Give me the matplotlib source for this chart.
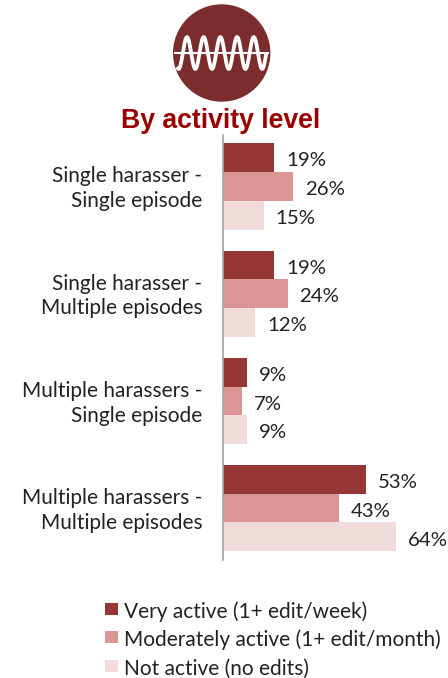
import numpy as np
import matplotlib
matplotlib.use("Agg")
import matplotlib.pyplot as plt
from matplotlib.patches import Circle
from matplotlib.transforms import ScaledTranslation

categories = ["Single harasser -\nSingle episode",
              "Single harasser -\nMultiple episodes",
              "Multiple harassers -\nSingle episode",
              "Multiple harassers -\nMultiple episodes"]
very_active = [19, 19, 9, 53]
moderately_active = [26, 24, 7, 43]
not_active = [15, 12, 9, 64]
series_labels = ["Very active (1+ edit/week)",
                 "Moderately active (1+ edit/month)",
                 "Not active (no edits)"]
colors = ["#953735", "#d99694", "#f2dcdb"]

W, H = 448, 678
plt.rcParams["font.family"] = ["Lato", "DejaVu Sans"]
fig = plt.figure(figsize=(W / 100, H / 100), dpi=100)

# main bars, axis line sits at x=223
ax = fig.add_axes([223 / W, 1 - 560 / H, 225 / W, 425 / H])
bar_h = 0.268
y = np.arange(len(categories))
for i, vals in enumerate([very_active, moderately_active, not_active]):
    pos = y + (i - 1) * bar_h
    ax.barh(pos, vals, height=bar_h, color=colors[i])
    for p, v in zip(pos, vals):
        ax.text(v + 4.3, p + 0.03, "{}%".format(v), va="center", ha="left", fontsize=14.7, color="#222222")

ax.set_xlim(0, 225 / 2.7)
ax.set_ylim(3.484, -0.48)
for s in ["top", "right", "bottom"]:
    ax.spines[s].set_visible(False)
ax.spines["left"].set_color("#a6a6a6")
ax.spines["left"].set_linewidth(1.2)
ax.set_xticks([])
ax.set_yticks(y)
ax.set_yticklabels(categories, fontsize=15, color="#222222", ha="right", linespacing=1.3)
ax.tick_params(axis="y", length=0, pad=15)
# nudge the two-line labels up a little
for lab in ax.get_yticklabels():
    lab.set_transform(lab.get_transform() + ScaledTranslation(0, 1.5 / 72, fig.dpi_scale_trans))

# circular icon on top
icon = fig.add_axes([0, 1 - 110 / H, 448 / W, 110 / H])
icon.set_xlim(0, 448)
icon.set_ylim(110, 0)
icon.axis("off")
icon.add_patch(Circle((221.7, 53), 48.7, color="#7b2c2c", lw=0))
xs = np.linspace(178, 266, 400)
icon.plot(xs, 53 - 16 * np.sin((xs - 177) * 2 * np.pi / 16.7 - 2.19), color="white", lw=2.7)
icon.plot([175, 268], [53, 53], color="white", lw=1.5)

fig.text(220.5 / W, 1 - 121.5 / H, "By activity level", ha="center", va="center",
         family="Liberation Sans", fontweight="bold", fontsize=19.2, color="#990000")

# legend
for label, color, py in zip(series_labels, colors, [609, 637, 666]):
    fig.patches.append(plt.Rectangle((105 / W, 1 - (py + 6) / H), 13 / W, 12 / H,
                                     color=color, lw=0, transform=fig.transFigure, figure=fig))
    fig.text(124 / W, 1 - (py + 3) / H, label, ha="left", va="center", fontsize=15, color="#222222")

fig.savefig("out.png", dpi=100)
